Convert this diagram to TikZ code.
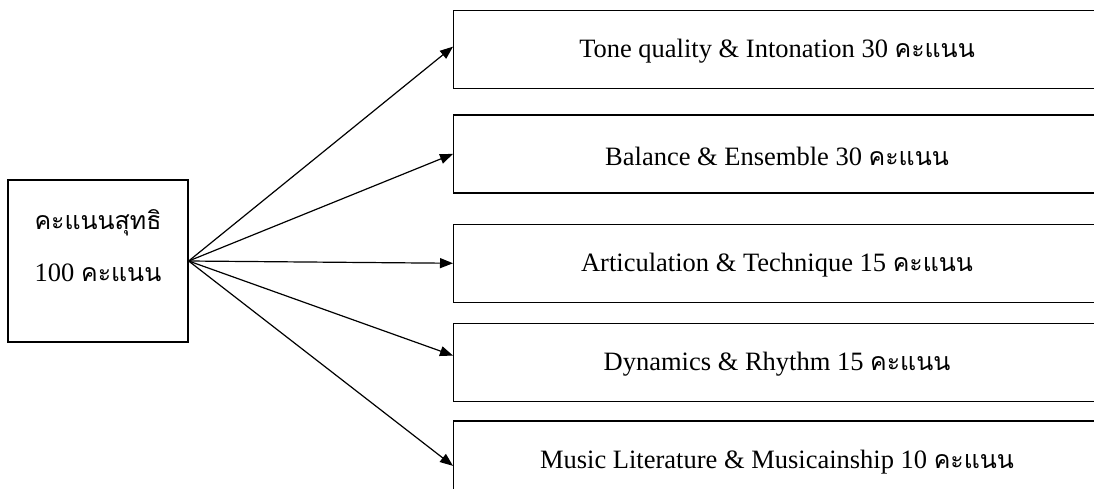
\documentclass[tikz,border=0pt]{standalone}
\usepackage{fontspec}
\setmainfont{Liberation Serif}
\newfontfamily\thaifont[Script=Thai,Scale=0.94]{Loma}
\usetikzlibrary{arrows.meta, positioning}

\begin{document}
\begin{tikzpicture}[
  x=1pt, y=-1pt,
  font=\fontsize{26.5}{30}\selectfont,
  srcbox/.style={rectangle, draw, line width=1.3pt, minimum width=180pt,
                 minimum height=162pt, inner sep=0pt, align=center,
                 font=\fontsize{26.5}{52}\selectfont, text depth=31pt},
  box/.style={rectangle, draw, line width=1.3pt, minimum width=660pt,
              minimum height=78pt, inner sep=0pt},
  lbl/.style={inner sep=0pt},
  arr/.style={-{Triangle[length=13pt, width=10pt]}, line width=1.2pt},
  node distance=25pt
]
  \clip (0,0) rectangle (1094,488);

  \node[srcbox] (src) at (98,261) {{\thaifont คะแนนสุทธิ}\\100 {\thaifont คะแนน}};

  \node[box, anchor=north west] (b1) at (453,10) {};
  \node[box, below=25pt of b1] (b2) {};
  \node[box, below=30pt of b2] (b3) {};
  \node[box, below=20pt of b3] (b4) {};
  \node[box, below=18pt of b4] (b5) {};

  \node[lbl] (t1) at ([xshift=324pt, yshift=-2pt]b1.west) {Tone quality \& Intonation 30 {\thaifont คะแนน}};
  \node[lbl] (t2) at ([xshift=324pt, yshift=-2pt]b2.west) {Balance \& Ensemble 30 {\thaifont คะแนน}};
  \node[lbl] (t3) at ([xshift=324pt, yshift=-2pt]b3.west) {Articulation \& Technique 15 {\thaifont คะแนน}};
  \node[lbl] (t4) at ([xshift=324pt, yshift=-2pt]b4.west) {Dynamics \& Rhythm 15 {\thaifont คะแนน}};
  \node[lbl] (t5) at ([xshift=324pt, yshift=-2pt]b5.west) {Music Literature \& Musicainship 10 {\thaifont คะแนน}};

  \draw[arr] (src.east) -- ([yshift=3pt]b1.west);
  \draw[arr] (src.east) -- (b2.west);
  \draw[arr] (src.east) -- (b3.west);
  \draw[arr] (src.east) -- ([yshift=7pt]b4.west);
  \draw[arr] (src.east) -- ([yshift=-6pt]b5.west);
\end{tikzpicture}
\end{document}
